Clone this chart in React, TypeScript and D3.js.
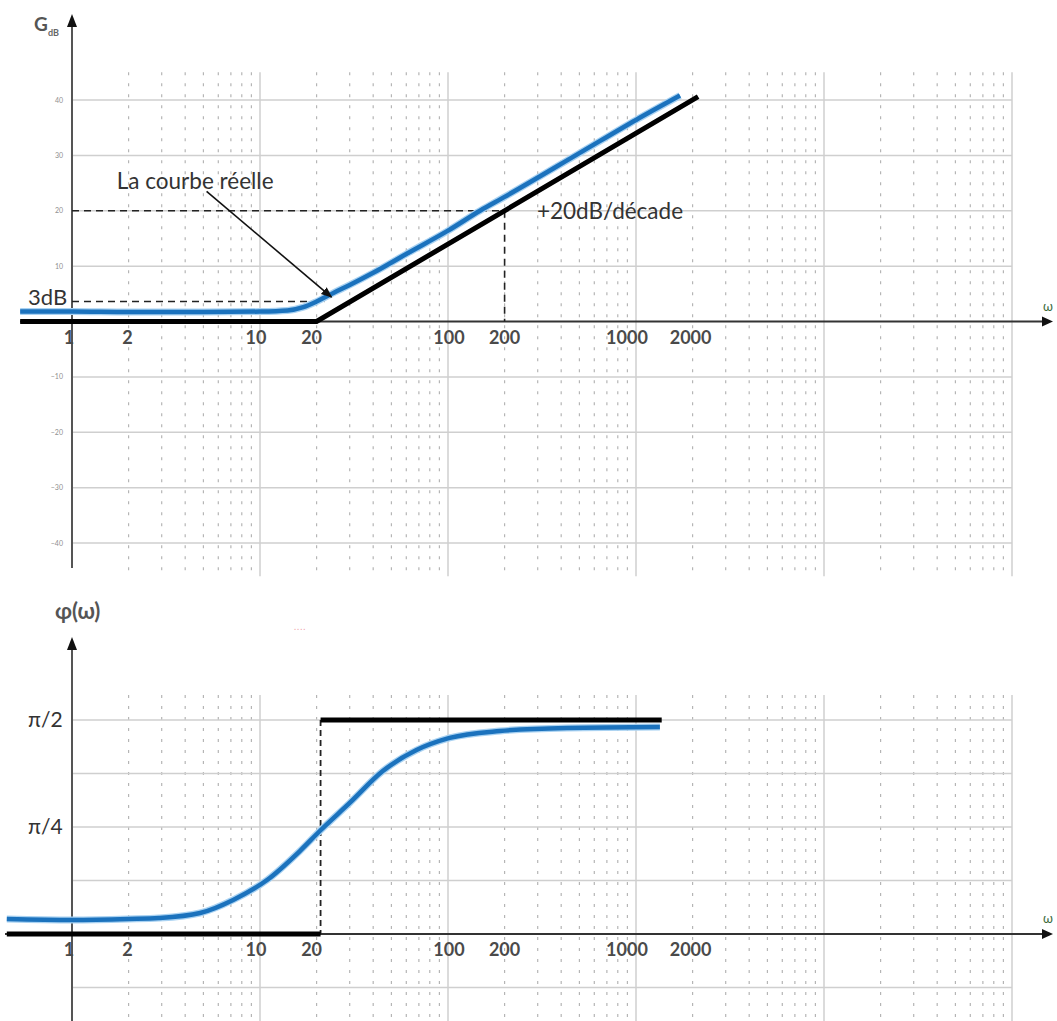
import React from "react";
import * as d3 from "d3";

// ---------- data ----------
const freqTickValues = [1, 2, 10, 20, 100, 200, 1000, 2000];
const freqTickLabels = ["1", "2", "10", "20", "100", "200", "1000", "2000"];
const gainGridValues = [-40, -30, -20, -10, 10, 20, 30, 40];
const gainGridLabels = ["−40", "−30", "−20", "−10", "10", "20", "30", "40"];
const phaseGridEighths = [-1, 1, 2, 3, 4]; // multiples of π/8
const phaseTickValues = [Math.PI / 4, Math.PI / 2];
const phaseTickLabels = ["π/4", "π/2"];

// gain asymptote (ω, dB)
const gainAsymW = [0.53, 20, 2140];
const gainAsymDb = [0, 0, 40.6];
// real gain curve (ω, dB), as drawn
const gainRealW = [0.53, 1, 2, 5, 10, 14, 17, 20, 25, 30, 40, 60, 100, 148, 200, 500, 1000, 1714];
const gainRealDb = [1.8, 1.8, 1.7, 1.7, 1.8, 2.0, 2.6, 3.6, 5.3, 6.6, 8.8, 12.2, 16.4, 20, 22.5, 30.4, 36.4, 40.8];

// phase asymptote
const phaseAsymLowW = [0.45, 21];
const phaseAsymHighW = [21, 1370];
// real phase curve (ω, rad), as drawn
const phaseRealW = [0.45, 1, 2, 2.9, 4.8, 7.2, 10.9, 16.3, 20.8, 30, 45, 68, 102, 189, 429, 1340];
const phaseRealRad = [0.11, 0.103, 0.11, 0.117, 0.154, 0.25, 0.396, 0.609, 0.756, 0.962, 1.196, 1.35, 1.439, 1.49, 1.512, 1.519];

// annotations (data coordinates)
const refW = 200;
const refDb = 20;
const threeDbLevel = 3.6;
const threeDbEndW = 22;
const arrowFrom = { w: 5.2, db: 23.5 };
const arrowTo = { w: 24, db: 4.4 };

const W = 1057;
const H = 1021;
const FONT = "Lato, 'Open Sans', sans-serif";
const BLUE = "#1b72bd";
const tickDx = [-3, -1, -4, -5, 1, 0, -9, -2];

export default function App() {
  const x = d3.scaleLog().domain([1, 1e5]).range([72, 1012]);
  const yG = d3.scaleLinear().domain([-40, 40]).range([543, 100]);
  const yP = d3.scaleLinear().domain([0, Math.PI / 2]).range([934, 720]);

  const minor: number[] = [];
  const major: number[] = [];
  [1, 10, 100, 1000, 10000].forEach((d) => {
    for (let k = 2; k <= 9; k++) minor.push(k * d);
    major.push(d * 10);
  });

  const lineG = d3
    .line<number>()
    .x((_, i) => x(gainRealW[i]))
    .y((d) => yG(d))
    .curve(d3.curveMonotoneX);
  const asymG = d3
    .line<number>()
    .x((_, i) => x(gainAsymW[i]))
    .y((d) => yG(d));
  const lineP = d3
    .line<number>()
    .x((_, i) => x(phaseRealW[i]))
    .y((d) => yP(d))
    .curve(d3.curveMonotoneX);

  const topGrid = [yG(45), yG(-46)];
  const botGrid = [695, H];

  const grid = (y0: number, y1: number, key: string) => (
    <g key={key}>
      {minor.map((f) => (
        <line key={"m" + f} x1={x(f)} x2={x(f)} y1={y0} y2={y1} stroke="#b5b5b5" strokeWidth={1.2} strokeDasharray="3,8" />
      ))}
      {major.map((f) => (
        <line key={"M" + f} x1={x(f)} x2={x(f)} y1={y0} y2={y1} stroke="#cfcfcf" strokeWidth={1.5} />
      ))}
    </g>
  );

  return (
    <svg width={W} height={H} style={{ position: "absolute", left: 0, top: 0, background: "#fff" }} fontFamily={FONT}>
      <defs>
        <marker id="ah" viewBox="0 0 10 10" refX="9" refY="5" markerWidth="7" markerHeight="7" orient="auto-start-reverse">
          <path d="M0,1 L10,5 L0,9 z" fill="#111" />
        </marker>
      </defs>

      {/* ===== TOP: gain ===== */}
      {grid(topGrid[0], topGrid[1], "gt")}
      {gainGridValues.map((g, i) => (
        <g key={"hg" + g}>
          <line x1={x(1)} x2={x(1e5)} y1={yG(g)} y2={yG(g)} stroke="#cfcfcf" strokeWidth={1.5} />
          <text x={63} y={yG(g) + 2.5} fontSize={7} fill="#8f8f8f" textAnchor="end">
            {gainGridLabels[i]}
          </text>
        </g>
      ))}
      {/* axes */}
      <line x1={20} x2={1045} y1={yG(0)} y2={yG(0)} stroke="#333" strokeWidth={2} />
      <path d={`M1053,${yG(0)} L1042,${yG(0) - 5} L1042,${yG(0) + 5} z`} fill="#111" />
      <line x1={x(1)} x2={x(1)} y1={24} y2={568} stroke="#555" strokeWidth={2} />
      <path d={`M${x(1)},14 L${x(1) - 5},27 L${x(1) + 5},27 z`} fill="#111" />
      <text x={34} y={31} fontSize={19} fill="#555" fontWeight={700}>G</text>
      <text x={48} y={36} fontSize={9} fill="#666" fontWeight={700}>dB</text>
      <text x={1043} y={311} fontSize={13} fill="#3d6b3d">ω</text>

      {/* dashed guides */}
      <line x1={x(1)} x2={x(refW)} y1={yG(refDb)} y2={yG(refDb)} stroke="#222" strokeWidth={1.6} strokeDasharray="7,5" />
      <line x1={x(refW)} x2={x(refW)} y1={yG(refDb)} y2={yG(0)} stroke="#222" strokeWidth={1.6} strokeDasharray="7,5" />
      <line x1={x(1)} x2={x(threeDbEndW)} y1={yG(threeDbLevel)} y2={yG(threeDbLevel)} stroke="#222" strokeWidth={1.6} strokeDasharray="7,5" />

      {/* curves */}
      <path d={asymG(gainAsymDb) || ""} fill="none" stroke="#000" strokeWidth={5} />
      <path d={lineG(gainRealDb) || ""} fill="none" stroke="#a9d2f2" strokeWidth={7} strokeLinejoin="round" />
      <path d={lineG(gainRealDb) || ""} fill="none" stroke={BLUE} strokeWidth={4.5} strokeLinejoin="round" />

      {/* annotations */}
      <text x={x(1.73)} y={yG(23.9)} fontSize={22.5} fill="#333">La courbe réelle</text>
      <line
        x1={x(arrowFrom.w)}
        y1={yG(arrowFrom.db)}
        x2={x(arrowTo.w)}
        y2={yG(arrowTo.db)}
        stroke="#111"
        strokeWidth={1.6}
        markerEnd="url(#ah)"
      />
      <text x={x(297)} y={yG(18.5)} fontSize={22.5} fill="#333">+20dB/décade</text>
      <text x={28} y={yG(3.0)} fontSize={22} fill="#333">3dB</text>

      {freqTickValues.map((f, i) => (
        <text key={"tt" + f} x={x(f) + tickDx[i]} y={yG(0) + 22} fontSize={18} fontWeight={700} fill="#4a4a4a" textAnchor="middle">
          {freqTickLabels[i]}
        </text>
      ))}

      {/* ===== BOTTOM: phase ===== */}
      {grid(botGrid[0], botGrid[1], "gb")}
      {phaseGridEighths.map((k) => (
        <line key={"hp" + k} x1={x(1)} x2={x(1e5)} y1={yP((k * Math.PI) / 8)} y2={yP((k * Math.PI) / 8)} stroke="#cfcfcf" strokeWidth={1.5} />
      ))}
      <line x1={5} x2={1045} y1={yP(0)} y2={yP(0)} stroke="#333" strokeWidth={2} />
      <path d={`M1053,${yP(0)} L1042,${yP(0) - 5} L1042,${yP(0) + 5} z`} fill="#111" />
      <line x1={x(1)} x2={x(1)} y1={646} y2={H} stroke="#555" strokeWidth={2} />
      <path d={`M${x(1)},637 L${x(1) - 5},650 L${x(1) + 5},650 z`} fill="#111" />
      <text x={55} y={619} fontSize={22} fill="#555" fontWeight={700}>φ(ω)</text>
      <text x={1043} y={923} fontSize={13} fill="#3d6b3d">ω</text>
      <text x={294} y={630} fontSize={9} fill="#f0a0a8" letterSpacing={1}>....</text>

      {phaseTickValues.map((p, i) => (
        <text key={"pt" + i} x={28} y={yP(p) + 7} fontSize={21} fill="#333">
          {phaseTickLabels[i]}
        </text>
      ))}

      <line x1={x(phaseAsymLowW[1])} x2={x(phaseAsymLowW[1])} y1={yP(Math.PI / 2)} y2={yP(0)} stroke="#222" strokeWidth={1.8} strokeDasharray="6,4" />
      <line x1={x(phaseAsymLowW[0])} x2={x(phaseAsymLowW[1])} y1={yP(0)} y2={yP(0)} stroke="#000" strokeWidth={5} />
      <line x1={x(phaseAsymHighW[0])} x2={x(phaseAsymHighW[1])} y1={yP(Math.PI / 2)} y2={yP(Math.PI / 2)} stroke="#000" strokeWidth={5} />
      <path d={lineP(phaseRealRad) || ""} fill="none" stroke="#a9d2f2" strokeWidth={7} />
      <path d={lineP(phaseRealRad) || ""} fill="none" stroke={BLUE} strokeWidth={4.5} />

      {freqTickValues.map((f, i) => (
        <text key={"tb" + f} x={x(f) + tickDx[i]} y={yP(0) + 22} fontSize={18} fontWeight={700} fill="#4a4a4a" textAnchor="middle">
          {freqTickLabels[i]}
        </text>
      ))}
    </svg>
  );
}
